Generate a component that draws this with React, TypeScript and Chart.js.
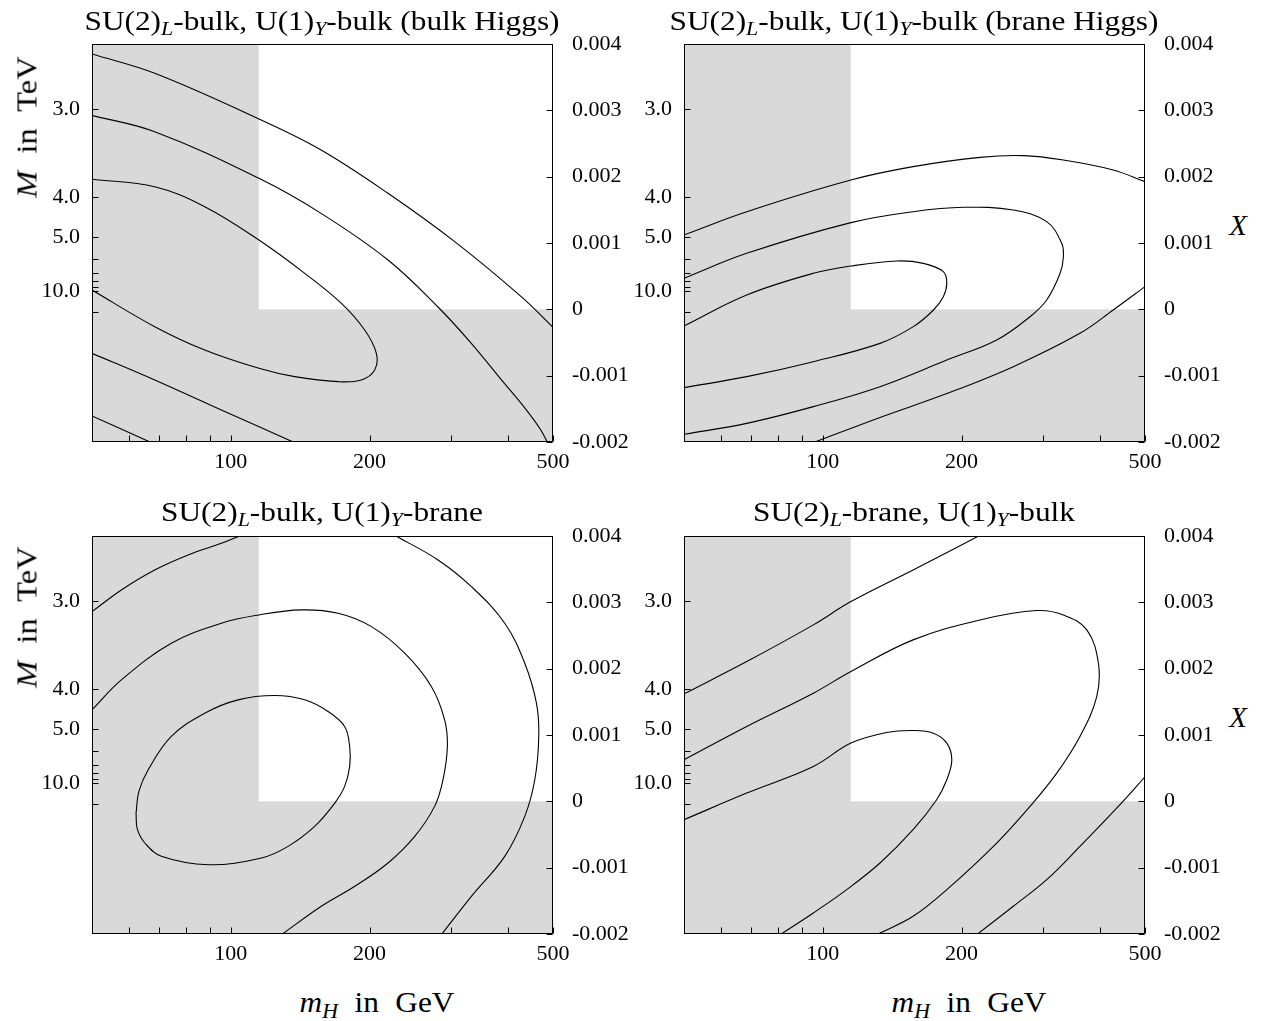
import React, { useEffect, useRef } from "react";
import { Chart, registerables } from "chart.js";

Chart.register(...registerables);

// ---- axes ----
const MH_MIN = 50;
const MH_MAX = 500;
const X_MIN = -0.002;
const X_MAX = 0.004;
const X_TICKS = [-0.002, -0.001, 0, 0.001, 0.002, 0.003, 0.004];
const MH_TICKS = [60, 70, 80, 90, 100, 200, 300, 400, 500];
const MH_LABELED = [100, 200, 500];
const M_TICKS = [3, 4, 5, 6, 7, 8, 9, 10];
const M_LABELED = [3, 4, 5, 10];
const X_PER_INV_M2 = 0.02716; // X = c / M^2, M in TeV
const M_EXTRA_TICK = -0.00004;

// ---- excluded regions (shaded) ----
const MH_EXCLUDED = 115;
const X_EXCLUDED = 0;

// ---- contour lines: [m_H in GeV, X in units of 1e-3] ----
// SU(2)L-bulk, U(1)Y-bulk (bulk Higgs)
const tlCurve1 = [[50, 3.849], [68.4, 3.558], [115.1, 2.869], [157, 2.402], [219.3, 1.749], [306, 1.02], [426.6, 0.191], [500, -0.271]];
const tlCurve2 = [[50, 2.925], [68.4, 2.678], [115.1, 1.975], [157, 1.447], [219.3, 0.744], [281.5, 0.035], [332.1, -0.508], [383.7, -1.036], [434.6, -1.488], [468.6, -1.8], [487.7, -2.02]];
const tlCurve3 = [[50, 1.96], [68.4, 1.849], [87.8, 1.548], [115.1, 1.045], [144.7, 0.543], [173.8, 0.09], [195.2, -0.312], [206.9, -0.663], [205.2, -0.915], [191.9, -1.065], [170.9, -1.09], [137.6, -1.015], [115.1, -0.889], [87.8, -0.613], [68.4, -0.261], [50, 0.291]];
const tlCurve4 = [[50, -0.663], [68.4, -1.065], [95.4, -1.518], [137.6, -2.01]];
const tlCurve5 = [[50, -1.608], [67.3, -2.01]];

// SU(2)L-bulk, U(1)Y-bulk (brane Higgs)
const trCurve1 = [[50, 1.121], [68.4, 1.472], [115.1, 1.95], [157, 2.151], [219.3, 2.291], [272.3, 2.317], [332.6, 2.251], [426.6, 2.101], [500, 1.925]];
const trCurve2 = [[50, 0.467], [68.4, 0.844], [115.1, 1.307], [157, 1.472], [201.9, 1.538], [259, 1.497], [306, 1.322], [329.9, 0.995], [332.6, 0.794], [327.2, 0.543], [306, 0.141], [281.5, -0.111], [238.4, -0.462], [185.8, -0.764], [133.1, -1.166], [95.4, -1.467], [68.4, -1.719], [50, -1.884]];
const trCurve3 = [[50, -0.251], [68.4, 0.216], [95.4, 0.543], [115.1, 0.653], [144.7, 0.729], [165.3, 0.693], [182.6, 0.568], [185.8, 0.392], [182.6, 0.191], [173.8, -0.01], [157.2, -0.261], [133.1, -0.513], [95.4, -0.789], [68.4, -1.015], [50, -1.181]];
const trCurve4 = [[95.4, -2.01], [133.1, -1.63], [185.8, -1.27], [259, -0.864], [361.3, -0.362], [426.6, -0.01], [500, 0.342]];

// SU(2)L-bulk, U(1)Y-brane
const blCurve1 = [[50, 2.86], [57.9, 3.187], [68.4, 3.488], [80.8, 3.714], [95.4, 3.89], [105.4, 4.01]];
const blCurve2 = [[226.9, 4.01], [281.5, 3.639], [332.6, 3.237], [392.9, 2.685], [434.2, 2.082], [460.3, 1.48], [465.7, 0.978], [456.5, 0.325], [434.2, -0.227], [392.9, -0.829], [332.6, -1.432], [286.3, -2.01]];
const blCurve3 = [[50, 1.38], [57.9, 1.831], [74.3, 2.384], [95.4, 2.685], [115.1, 2.81], [142.3, 2.886], [170.9, 2.835], [201.9, 2.634], [238.4, 2.233], [272.3, 1.731], [291, 1.229], [295, 0.827], [288.6, 0.325], [276.8, -0.076], [250.6, -0.528], [219.3, -0.93], [185.8, -1.281], [157.2, -1.582], [128.8, -2.01]];
const blCurve4 = [[62.3, -0.18], [63.2, 0.15], [66.2, 0.476], [74.3, 0.978], [87.8, 1.329], [103.7, 1.53], [124.5, 1.595], [144.7, 1.53], [162.6, 1.354], [176.6, 1.129], [181.1, 0.827], [181.1, 0.526], [176.6, 0.225], [168.1, -0.026], [152, -0.378], [133.1, -0.679], [116.5, -0.855], [89.3, -0.955], [70.7, -0.829], [65.1, -0.628], [62.7, -0.42], [62.3, -0.18]];

// SU(2)L-brane, U(1)Y-bulk
const brCurve1 = [[50, 1.62], [68.4, 2.107], [95.4, 2.66], [115.1, 3.011], [157, 3.488], [219.3, 4.01]];
const brCurve2 = [[50, 0.627], [68.4, 1.129], [95.4, 1.631], [115.1, 1.957], [157, 2.434], [219.3, 2.735], [291, 2.876], [332.6, 2.81], [373.9, 2.584], [396.2, 2.082], [392.9, 1.58], [361.3, 0.978], [321.8, 0.426], [281.5, -0.076], [238.4, -0.629], [185.8, -1.331], [157, -1.733], [130.9, -2.01]];
const brCurve3 = [[50, -0.277], [68.4, 0.124], [95.4, 0.526], [115.1, 0.878], [137.6, 1.038], [157, 1.068], [173.8, 1.028], [185.8, 0.878], [190.5, 0.627], [185.8, 0.325], [176.6, 0.024], [157, -0.428], [133.1, -0.93], [112.7, -1.331], [95.4, -1.683], [80.8, -2.01]];
const brCurve4 = [[215.7, -2.01], [259, -1.582], [306, -1.181], [361.3, -0.679], [448, 0.0], [500, 0.37]];

const FONT = "'Liberation Serif', 'Times New Roman', serif";
const TICK_FONT = { family: FONT, size: 22 };

const shadePlugin = {
  id: "shade",
  beforeDatasetsDraw(chart: any) {
    const { ctx, chartArea: a, scales } = chart;
    const xb = scales.x.getPixelForValue(MH_EXCLUDED);
    const yb = scales.yX.getPixelForValue(X_EXCLUDED);
    ctx.save();
    ctx.fillStyle = "#d9d9d9";
    ctx.fillRect(a.left, a.top, xb - a.left, a.bottom - a.top);
    ctx.fillRect(a.left, yb, a.right - a.left, a.bottom - yb);
    ctx.restore();
  },
};

const framePlugin = {
  id: "frame",
  afterDatasetsDraw(chart: any) {
    const { ctx, chartArea: a, scales } = chart;
    const L = 6;
    ctx.save();
    ctx.strokeStyle = "#000";
    ctx.lineWidth = 1;
    const l = Math.round(a.left) + 0.5;
    const r = Math.round(a.right) - 0.5;
    const t = Math.round(a.top) + 0.5;
    const b = Math.round(a.bottom) - 0.5;
    ctx.strokeRect(l, t, r - l, b - t);
    ctx.beginPath();
    scales.x.ticks.forEach((tk: any) => {
      const px = Math.round(scales.x.getPixelForValue(tk.value)) + 0.5;
      ctx.moveTo(px, b);
      ctx.lineTo(px, b - L);
    });
    scales.yX.ticks.forEach((tk: any) => {
      const py = Math.round(scales.yX.getPixelForValue(tk.value)) + 0.5;
      ctx.moveTo(r, py);
      ctx.lineTo(r - L, py);
    });
    scales.yM.ticks.forEach((tk: any) => {
      const py = Math.round(scales.yM.getPixelForValue(tk.value)) + 0.5;
      ctx.moveTo(l, py);
      ctx.lineTo(l + L, py);
    });
    ctx.stroke();
    ctx.restore();
  },
};

function fmtX(v: number) {
  return Number(v.toFixed(3)).toString();
}

function buildChart(canvas: HTMLCanvasElement, curves: number[][][]) {
  const datasets = curves.map((c) => ({
    data: c.map(([m, x]) => ({ x: m, y: x * 1e-3 })),
    xAxisID: "x",
    yAxisID: "yX",
    showLine: true,
    borderColor: "#000",
    borderWidth: 1.1,
    pointRadius: 0,
    tension: 0.38,
    fill: false,
  }));
  return new Chart(canvas, {
    type: "scatter",
    data: { datasets },
    options: {
      animation: false,
      responsive: false,
      events: [],
      layout: { padding: { top: 44, left: 0, right: 0, bottom: 0 } },
      plugins: {
        legend: { display: false },
        tooltip: { enabled: false },
        title: { display: false },
      },
      scales: {
        x: {
          type: "logarithmic",
          position: "bottom",
          min: MH_MIN,
          max: MH_MAX,
          afterBuildTicks: (s: any) => {
            s.ticks = MH_TICKS.map((v) => ({ value: v }));
          },
          afterFit: (s: any) => {
            s.height = 48;
          },
          ticks: {
            autoSkip: false,
            maxRotation: 0,
            padding: 7,
            color: "#000",
            font: TICK_FONT,
            callback: (v: any) => (MH_LABELED.includes(Number(v)) ? String(v) : ""),
          },
          grid: { display: false, drawTicks: false },
          border: { display: false },
        },
        yX: {
          type: "linear",
          position: "right",
          min: X_MIN,
          max: X_MAX,
          afterBuildTicks: (s: any) => {
            s.ticks = X_TICKS.map((v) => ({ value: v }));
          },
          afterFit: (s: any) => {
            s.width = 78;
          },
          ticks: {
            autoSkip: false,
            padding: 19,
            color: "#000",
            font: TICK_FONT,
            callback: (v: any) => fmtX(Number(v)),
          },
          grid: { display: false, drawTicks: false },
          border: { display: false },
        },
        yM: {
          type: "linear",
          position: "left",
          min: X_MIN,
          max: X_MAX,
          afterBuildTicks: (s: any) => {
            const t = M_TICKS.map((m) => ({ value: X_PER_INV_M2 / (m * m) }));
            t.push({ value: M_EXTRA_TICK });
            s.ticks = t;
          },
          afterFit: (s: any) => {
            s.width = 92;
          },
          ticks: {
            autoSkip: false,
            padding: 12,
            color: "#000",
            font: TICK_FONT,
            callback: (v: any) => {
              const val = Number(v);
              if (val <= 0) return "";
              const m = Math.round(Math.sqrt(X_PER_INV_M2 / val));
              return M_LABELED.includes(m) ? m.toFixed(1) : "";
            },
          },
          grid: { display: false, drawTicks: false },
          border: { display: false },
        },
      },
    } as any,
    plugins: [shadePlugin, framePlugin],
  });
}

function Panel(props: { left: number; top: number; curves: number[][][] }) {
  const ref = useRef<HTMLCanvasElement | null>(null);
  useEffect(() => {
    if (!ref.current) return;
    const c = buildChart(ref.current, props.curves);
    return () => c.destroy();
  }, []);
  return (
    <canvas
      ref={ref}
      width={631}
      height={490}
      style={{ position: "absolute", left: props.left, top: props.top, width: 631, height: 490 }}
    />
  );
}

const subStyle: React.CSSProperties = { fontSize: "0.7em", verticalAlign: "-0.3em", lineHeight: 0, fontStyle: "italic" };

function Title(props: { cx: number; cy: number; children: React.ReactNode }) {
  return (
    <div
      style={{
        position: "absolute",
        left: props.cx,
        top: props.cy,
        transform: "translate(-50%, -50%) scaleX(1.16)",
        fontFamily: FONT,
        fontSize: 27,
        lineHeight: 1,
        whiteSpace: "nowrap",
        color: "#000",
      }}
    >
      {props.children}
    </div>
  );
}

function Free(props: { cx: number; cy: number; rotate?: boolean; size?: number; words?: number; stretch?: number; children: React.ReactNode }) {
  const st = props.stretch || 1;
  return (
    <div
      style={{
        position: "absolute",
        left: props.cx,
        top: props.cy,
        transform: `translate(-50%, -50%)${props.rotate ? " rotate(-90deg)" : ""} scaleX(${st})`,
        fontFamily: FONT,
        fontSize: props.size || 26,
        wordSpacing: props.words || 0,
        lineHeight: 1,
        whiteSpace: "nowrap",
        color: "#000",
      }}
    >
      {props.children}
    </div>
  );
}

const L = <sub style={subStyle}>L</sub>;
const Y = <sub style={subStyle}>Y</sub>;

export default function App() {
  return (
    <div style={{ position: "absolute", left: 0, top: 0, width: 1263, height: 1021, background: "#fff", overflow: "hidden" }}>
      <Panel left={0} top={0} curves={[tlCurve1, tlCurve2, tlCurve3, tlCurve4, tlCurve5]} />
      <Panel left={592} top={0} curves={[trCurve1, trCurve2, trCurve3, trCurve4]} />
      <Panel left={0} top={492} curves={[blCurve1, blCurve2, blCurve3, blCurve4]} />
      <Panel left={592} top={492} curves={[brCurve1, brCurve2, brCurve3, brCurve4]} />

      <Title cx={322} cy={21}>SU(2){L}-bulk, U(1){Y}-bulk (bulk Higgs)</Title>
      <Title cx={914} cy={21}>SU(2){L}-bulk, U(1){Y}-bulk (brane Higgs)</Title>
      <Title cx={322} cy={512}>SU(2){L}-bulk, U(1){Y}-brane</Title>
      <Title cx={914} cy={512}>SU(2){L}-brane, U(1){Y}-bulk</Title>

      <Free cx={27} cy={127} rotate size={29} words={8} stretch={1.12}>
        <i>M</i> in TeV
      </Free>
      <Free cx={27} cy={617} rotate size={29} words={8} stretch={1.12}>
        <i>M</i> in TeV
      </Free>
      <Free cx={1238} cy={225} size={29}>
        <i>X</i>
      </Free>
      <Free cx={1238} cy={717} size={29}>
        <i>X</i>
      </Free>
      <Free cx={377} cy={1002} size={29} words={8} stretch={1.08}>
        <i>m</i>
        <sub style={subStyle}>H</sub> in GeV
      </Free>
      <Free cx={969} cy={1002} size={29} words={8} stretch={1.08}>
        <i>m</i>
        <sub style={subStyle}>H</sub> in GeV
      </Free>
    </div>
  );
}
